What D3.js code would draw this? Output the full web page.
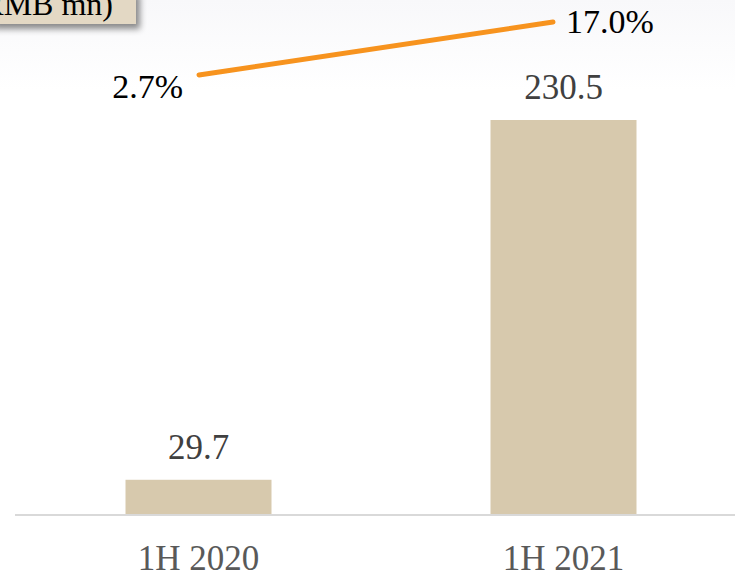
<!DOCTYPE html>
<html>
<head>
<meta charset="utf-8">
<script src="https://cdn.jsdelivr.net/npm/d3@7"></script>
<style>
  html, body { margin: 0; padding: 0; background: #fff; }
  svg { display: block; font-family: "Liberation Serif", "Times New Roman", serif; }
</style>
</head>
<body>
<svg width="735" height="577"></svg>
<script>
var categories = ["1H 2020", "1H 2021"];
var revenue = [29.7, 230.5];
var revenueLabels = ["29.7", "230.5"];
var margin = [2.7, 17.0];
var marginLabels = ["2.7%", "17.0%"];
var unitLabel = "(RMB mn)";

var svg = d3.select("svg");
var width = +svg.attr("width");
var height = +svg.attr("height");

// very faint grey wash at the top of the slide
var defs = svg.append("defs");
var grad = defs.append("linearGradient").attr("id", "wash").attr("x1", 0).attr("y1", 0).attr("x2", 0).attr("y2", 1);
grad.append("stop").attr("offset", "0%").attr("stop-color", "#f8f8fa");
grad.append("stop").attr("offset", "100%").attr("stop-color", "#ffffff");
svg.append("rect").attr("width", width).attr("height", 90).attr("fill", "url(#wash)");

var shadow = defs.append("filter").attr("id", "shadow").attr("x", "-20%").attr("y", "-50%").attr("width", "150%").attr("height", "250%");
shadow.append("feDropShadow").attr("dx", 4).attr("dy", 5).attr("stdDeviation", 3).attr("flood-color", "#000").attr("flood-opacity", 0.45);

var x = d3.scaleBand().domain(categories).range([16, 746]).paddingInner(0.6).paddingOuter(0.3);
var y = d3.scaleLinear().domain([10.6, 230.5]).range([514, 120]);

// growth line sits in its own strip above the bars
var xLine = d3.scalePoint().domain(categories).range([199, 553]);
var yLine = d3.scaleLinear().domain([0, 20]).range([85, 10.9]);

var g = svg.append("g");

g.selectAll(".bar").data(revenue).enter().append("rect")
    .attr("class", "bar")
    .attr("x", function (d, i) { return x(categories[i]); })
    .attr("y", function (d) { return y(d); })
    .attr("width", x.bandwidth())
    .attr("height", function (d) { return y.range()[0] - y(d); })
    .attr("fill", "#d7c9ad");

g.selectAll(".bar-label").data(revenue).enter().append("text")
    .attr("class", "bar-label")
    .attr("x", function (d, i) { return x(categories[i]) + x.bandwidth() / 2; })
    .attr("y", function (d) { return y(d) - 21; })
    .attr("text-anchor", "middle")
    .attr("font-size", 35)
    .attr("fill", "#404040")
    .text(function (d, i) { return revenueLabels[i]; });

// baseline
g.append("line")
    .attr("x1", 15).attr("x2", width)
    .attr("y1", 515).attr("y2", 515)
    .attr("stroke", "#d9d9d9").attr("stroke-width", 2);

var xAxis = g.append("g").attr("transform", "translate(0,570)")
    .call(d3.axisBottom(x).tickSize(0).tickPadding(0));
xAxis.select(".domain").remove();
xAxis.selectAll("text")
    .attr("dy", 0)
    .attr("font-family", "Liberation Serif, Times New Roman, serif")
    .attr("font-size", 35)
    .attr("fill", "#595959");

var line = d3.line()
    .x(function (d, i) { return xLine(categories[i]); })
    .y(function (d) { return yLine(d); });

g.append("path").datum(margin)
    .attr("fill", "none")
    .attr("stroke", "#f7931e")
    .attr("stroke-width", 5)
    .attr("stroke-linecap", "round")
    .attr("d", line);

g.selectAll(".pct").data(margin).enter().append("text")
    .attr("class", "pct")
    .attr("x", function (d, i) { return i === 0 ? xLine(categories[i]) - 16 : xLine(categories[i]) + 13; })
    .attr("y", function (d, i) { return i === 0 ? yLine(d) + 23 : yLine(d) + 11; })
    .attr("text-anchor", function (d, i) { return i === 0 ? "end" : "start"; })
    .attr("font-size", 34)
    .attr("fill", "#000")
    .text(function (d, i) { return marginLabels[i]; });

// unit box, clipped by the top-left corner like the slide it came from
svg.append("rect")
    .attr("x", -10).attr("y", -10)
    .attr("width", 146).attr("height", 34)
    .attr("fill", "#e3d8c4")
    .attr("filter", "url(#shadow)");
svg.append("text")
    .attr("x", 113).attr("y", 15)
    .attr("text-anchor", "end")
    .attr("font-size", 32)
    .attr("fill", "#000")
    .text(unitLabel);
</script>
</body>
</html>
